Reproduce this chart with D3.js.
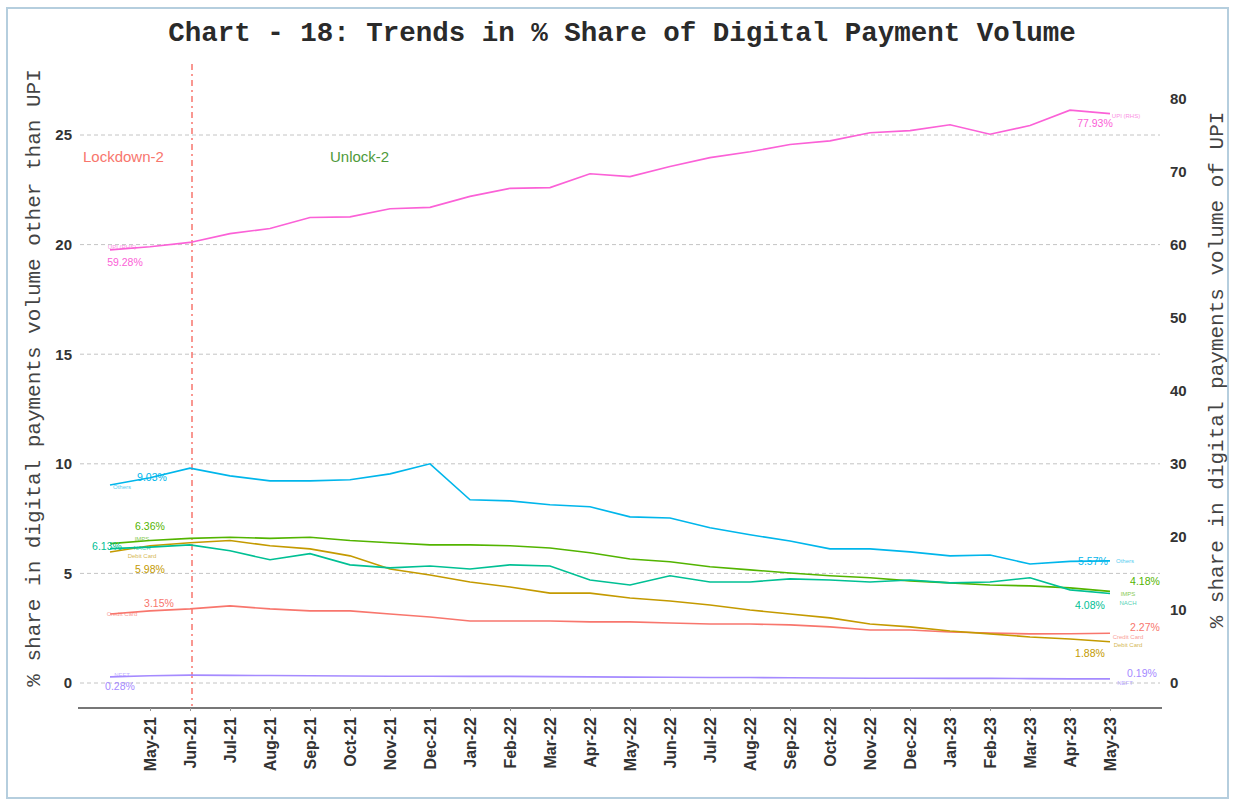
<!DOCTYPE html>
<html>
<head>
<meta charset="utf-8">
<script src="https://cdn.jsdelivr.net/npm/d3@7"></script>
<style>
  body { margin: 0; background: #fff; }
  svg { display: block; }
</style>
</head>
<body>
<svg id="chart"></svg>
<script>
// data, Apr-21 .. May-23 (share of volume, %)
const months = ["Apr-21","May-21","Jun-21","Jul-21","Aug-21","Sep-21","Oct-21","Nov-21","Dec-21",
  "Jan-22","Feb-22","Mar-22","Apr-22","May-22","Jun-22","Jul-22","Aug-22","Sep-22","Oct-22","Nov-22","Dec-22",
  "Jan-23","Feb-23","Mar-23","Apr-23","May-23"];
const creditCard = [3.15,3.29,3.38,3.52,3.38,3.29,3.29,3.15,3.01,2.83,2.83,2.83,2.79,2.79,2.74,2.69,2.69,2.65,2.56,2.42,2.42,2.33,2.28,2.24,2.25,2.27];
const debitCard = [5.98,6.26,6.40,6.50,6.26,6.12,5.80,5.20,4.93,4.61,4.38,4.10,4.10,3.88,3.74,3.56,3.33,3.15,2.97,2.69,2.56,2.37,2.24,2.10,2.01,1.88];
const imps = [6.36,6.50,6.60,6.65,6.60,6.65,6.50,6.40,6.30,6.30,6.26,6.16,5.94,5.66,5.53,5.30,5.16,5.02,4.89,4.80,4.66,4.57,4.47,4.43,4.34,4.18];
const nach = [6.13,6.20,6.30,6.03,5.62,5.90,5.39,5.25,5.34,5.20,5.39,5.34,4.70,4.47,4.89,4.61,4.61,4.75,4.70,4.61,4.70,4.57,4.61,4.80,4.25,4.08];
const others = [9.03,9.36,9.80,9.45,9.22,9.22,9.27,9.54,10.0,8.36,8.31,8.13,8.04,7.58,7.53,7.08,6.76,6.48,6.12,6.12,5.98,5.80,5.84,5.43,5.55,5.57];
const neft = [0.28,0.33,0.36,0.35,0.34,0.33,0.32,0.31,0.31,0.30,0.30,0.29,0.28,0.27,0.26,0.25,0.25,0.24,0.23,0.22,0.22,0.21,0.21,0.20,0.19,0.19];
const upi = [59.28,59.7,60.3,61.5,62.2,63.7,63.8,64.9,65.1,66.6,67.7,67.8,69.7,69.3,70.7,71.9,72.7,73.7,74.2,75.3,75.6,76.4,75.1,76.3,78.4,77.93];
const leftTicks = [0, 5, 10, 15, 20, 25];
const rightTicks = [0, 10, 20, 30, 40, 50, 60, 70, 80];

const width = 1237, height = 805;
const svg = d3.select("#chart").attr("width", width).attr("height", height);

// series + label placement (ggplot hue colours); s/e = value label offset, sn/en = name offset
const series = [
  {name: "Credit Card", vals: creditCard, color: "#F8766D", s: [49, -11], e: [35, -6], sn: [12, 0], en: [18, 4]},
  {name: "Debit Card", vals: debitCard, color: "#C49A00", s: [40, 17], e: [-20, 12], sn: [32, 4], en: [18, 3]},
  {name: "IMPS", vals: imps, color: "#53B400", s: [40, -17], e: [35, -10], sn: [32, -5], en: [18, 3]},
  {name: "NACH", vals: nach, color: "#00C094", s: [-3, -2], e: [-20, 12], sn: [32, -1], en: [18, 9]},
  {name: "Others", vals: others, color: "#00B6EB", s: [42, -8], e: [-17, 0], sn: [12, 2], en: [15, 0]},
  {name: "NEFT", vals: neft, color: "#A58AFF", s: [10, 9], e: [32, -6], sn: [12, -2], en: [15, 4]},
  {name: "UPI (RHS)", vals: upi, color: "#FB61D7", s: [15, 12], e: [-15, 10], sn: [12, -3], en: [16, 2], right: true}
];

// frame
svg.append("rect").attr("x", 7).attr("y", 8).attr("width", 1221).attr("height", 790)
  .attr("fill", "none").attr("stroke", "#b5cede").attr("stroke-width", 2);

const x = d3.scalePoint().domain(months).range([110, 1110]);
const yL = d3.scaleLinear().domain([0, 25]).range([683, 135]);
const yR = d3.scaleLinear().domain([0, 75]).range([683, 135]);

// grid
svg.append("g").selectAll("line").data(leftTicks).enter().append("line")
  .attr("x1", 80).attr("x2", 1160)
  .attr("y1", d => yL(d)).attr("y2", d => yL(d))
  .attr("stroke", "#c4c4c4").attr("stroke-dasharray", "4,3").attr("stroke-width", 1);

// left axis
const gl = svg.append("g").attr("transform", "translate(78,0)")
  .call(d3.axisLeft(yL).tickValues(leftTicks).tickSize(0).tickPadding(6));
gl.select(".domain").remove();
gl.selectAll("text").attr("font-family", "Liberation Sans, Arial").attr("font-weight", "bold")
  .attr("font-size", 15).attr("fill", "#333");

// right axis
const gr = svg.append("g").attr("transform", "translate(1164,0)")
  .call(d3.axisRight(yR).tickValues(rightTicks).tickSize(0).tickPadding(6));
gr.select(".domain").remove();
gr.selectAll("text").attr("font-family", "Liberation Sans, Arial").attr("font-weight", "bold")
  .attr("font-size", 15).attr("fill", "#333");

// x axis
const gx = svg.append("g").attr("transform", "translate(0,708)")
  .call(d3.axisBottom(x).tickValues(months.slice(1)).tickSize(3).tickPadding(6));
gx.select(".domain").attr("d", "M78,0H1162").attr("stroke", "#777").attr("stroke-width", 2);
gx.selectAll(".tick line").attr("stroke", "#999");
gx.selectAll("text")
  .attr("font-family", "Liberation Sans, Arial").attr("font-weight", "bold")
  .attr("font-size", 16).attr("fill", "#333")
  .attr("transform", "rotate(-90)")
  .attr("text-anchor", "end").attr("dy", "0.35em").attr("x", -9).attr("y", 0);

// lockdown marker
svg.append("line").attr("x1", x("Jun-21") + 2).attr("x2", x("Jun-21") + 2).attr("y1", 64).attr("y2", 706)
  .attr("stroke", "#F8766D").attr("stroke-width", 1.5).attr("stroke-dasharray", "6,4,2,4");
svg.append("text").attr("x", 83).attr("y", 162).text("Lockdown-2")
  .attr("font-family", "Liberation Sans, Arial").attr("font-size", 15).attr("fill", "#F8766D");
svg.append("text").attr("x", 330).attr("y", 162).text("Unlock-2")
  .attr("font-family", "Liberation Sans, Arial").attr("font-size", 15).attr("fill", "#4e9a3a");

// lines
const lineFor = s => d3.line().x((d, i) => x(months[i])).y(d => (s.right ? yR : yL)(d));
svg.append("g").selectAll("path").data(series).enter().append("path")
  .attr("d", s => lineFor(s)(s.vals))
  .attr("fill", "none").attr("stroke", s => s.color).attr("stroke-width", 1.6);

// start / end labels
const labels = svg.append("g").attr("font-family", "Liberation Sans, Arial");
series.forEach(s => {
  const y = s.right ? yR : yL;
  const n = s.vals.length - 1;
  [[0, s.s, s.sn], [n, s.e, s.en]].forEach(([i, off, noff]) => {
    const px = x(months[i]), py = y(s.vals[i]);
    labels.append("text").attr("x", px + off[0]).attr("y", py + off[1])
      .attr("text-anchor", "middle").attr("dy", "0.35em")
      .attr("font-size", 10.5).attr("fill", s.color)
      .text(d3.format(".2f")(s.vals[i]) + "%");
    labels.append("text").attr("x", px + noff[0]).attr("y", py + noff[1])
      .attr("text-anchor", "middle").attr("dy", "0.35em")
      .attr("font-size", 6).attr("fill", s.color).attr("opacity", 0.7)
      .text(s.name);
  });
});

// titles
svg.append("text").attr("x", 622).attr("y", 41).attr("text-anchor", "middle")
  .attr("font-family", "Liberation Mono, monospace").attr("font-weight", "bold")
  .attr("font-size", 27.5).attr("fill", "#2a2a2a")
  .text("Chart - 18: Trends in % Share of Digital Payment Volume");
svg.append("text").attr("transform", "translate(33,378) rotate(-90)").attr("text-anchor", "middle")
  .attr("dy", "0.35em").attr("font-family", "Liberation Mono, monospace")
  .attr("font-size", 21).attr("fill", "#444")
  .text("% share in digital payments volume other than UPI");
svg.append("text").attr("transform", "translate(1216,370) rotate(-90)").attr("text-anchor", "middle")
  .attr("dy", "0.35em").attr("font-family", "Liberation Mono, monospace")
  .attr("font-size", 21).attr("fill", "#444")
  .text("% share in digital payments volume of UPI");
</script>
</body>
</html>
